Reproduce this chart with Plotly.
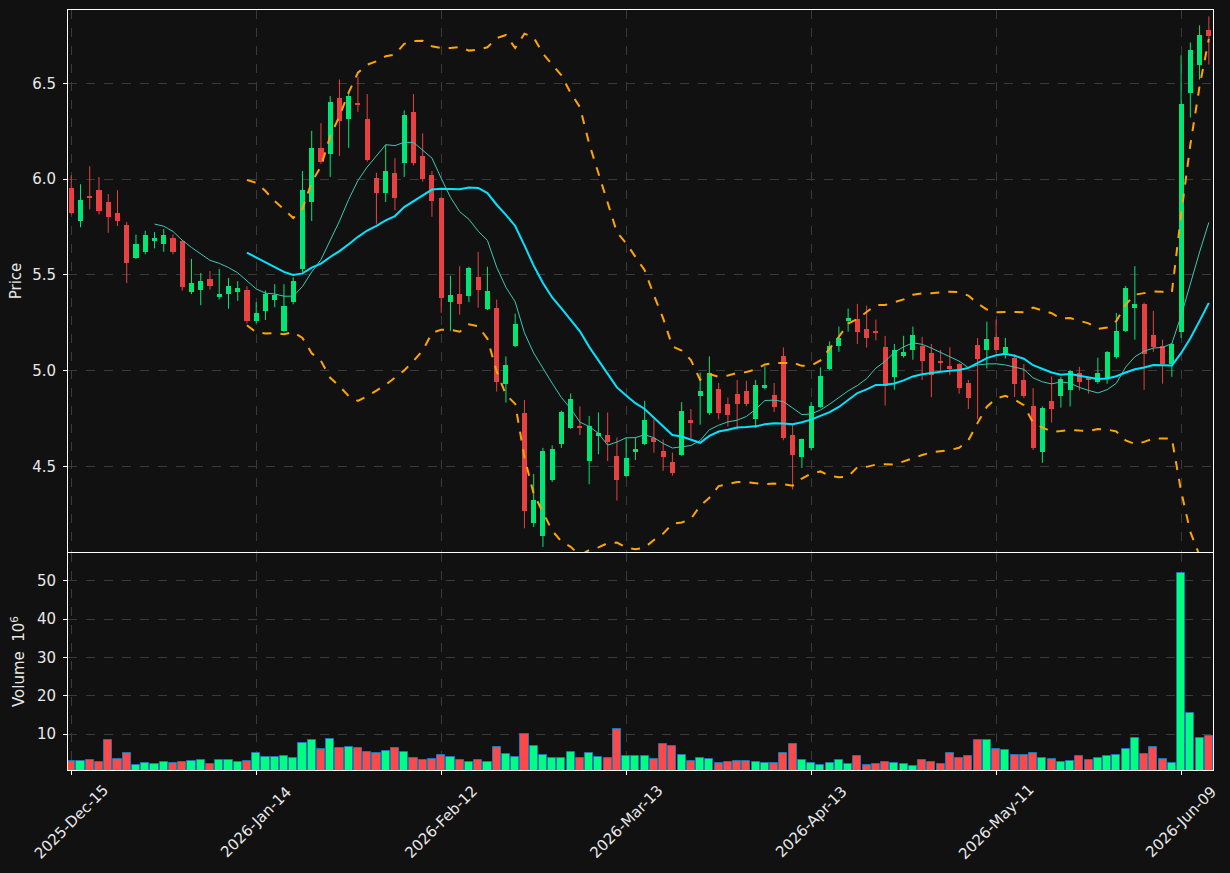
import numpy as np
import pandas as pd
import plotly.graph_objects as go

tick_pos = [0, 20, 40, 60, 80, 100, 120]
tick_labels = ["2025-Dec-15", "2026-Jan-14", "2026-Feb-12", "2026-Mar-13",
               "2026-Apr-13", "2026-May-11", "2026-Jun-09"]

opens = [5.955,5.779,5.913,5.944,5.882,5.824,5.761,5.587,5.618,5.679,
5.659,5.694,5.674,5.409,5.420,5.480,5.386,5.399,5.409,5.422,
5.257,5.312,5.368,5.207,5.357,5.529,5.879,6.163,6.129,6.424,
6.312,6.395,6.313,6.007,5.929,6.033,6.082,6.351,6.121,6.022,
5.902,5.357,5.402,5.388,5.491,5.321,5.324,4.929,5.127,4.777,
4.205,4.138,4.428,4.616,4.701,4.708,4.529,4.659,4.661,4.553,
4.449,4.574,4.616,4.650,4.578,4.522,4.560,4.741,4.868,4.777,
4.902,4.824,4.880,4.891,4.745,4.908,4.870,5.074,4.661,4.549,
4.596,4.808,5.007,5.127,5.257,5.268,5.219,5.203,5.121,4.966,
5.074,5.107,5.130,5.089,5.043,5.024,5.034,4.933,5.132,5.107,
5.174,5.089,5.065,4.953,4.813,4.574,4.839,4.868,4.899,4.989,
4.958,4.940,4.962,5.071,5.207,5.324,5.350,5.183,5.129,5.034,
5.201,6.451,6.598,6.781]

highs = [6.020,5.973,6.067,6.011,5.922,5.942,5.775,5.710,5.730,5.723,
5.739,5.710,5.680,5.583,5.509,5.520,5.531,5.484,5.467,5.440,
5.357,5.418,5.451,5.451,5.487,6.042,6.252,6.292,6.433,6.520,
6.451,6.534,6.444,6.033,6.179,6.109,6.359,6.444,6.239,6.042,
5.905,5.495,5.545,5.542,5.620,5.542,5.370,5.074,5.297,4.846,
4.460,4.596,4.609,4.790,4.880,4.813,4.763,4.781,4.781,4.650,
4.650,4.650,4.842,4.745,4.640,4.571,4.835,4.799,4.989,5.074,
4.935,4.859,4.951,4.947,4.951,5.022,4.935,5.121,4.716,4.645,
4.835,5.016,5.152,5.230,5.324,5.348,5.339,5.266,5.181,5.139,
5.181,5.230,5.176,5.139,5.107,5.121,5.038,4.951,5.170,5.255,
5.266,5.170,5.085,5.034,4.908,4.813,4.969,4.967,5.003,5.020,
4.962,5.067,5.102,5.301,5.442,5.545,5.355,5.312,5.161,5.143,
6.647,6.714,6.803,6.850]

lows = [5.815,5.748,5.842,5.815,5.719,5.755,5.457,5.582,5.607,5.638,
5.620,5.607,5.417,5.399,5.341,5.422,5.370,5.322,5.364,5.246,
5.246,5.264,5.330,5.200,5.346,5.514,5.781,6.080,6.011,6.120,
6.163,6.351,6.092,5.766,5.880,5.837,6.011,6.071,5.987,5.803,
5.301,5.207,5.292,5.357,5.328,5.316,4.890,4.832,5.122,4.176,
4.183,4.078,4.418,4.596,4.696,4.663,4.406,4.563,4.527,4.321,
4.442,4.533,4.610,4.571,4.476,4.451,4.555,4.645,4.717,4.768,
4.745,4.708,4.690,4.813,4.701,4.900,4.783,4.636,4.379,4.491,
4.585,4.803,5.002,5.098,5.203,5.139,5.120,5.158,4.817,4.900,
5.067,5.056,4.951,4.861,4.998,4.976,4.879,4.799,4.745,5.011,
5.092,5.063,4.862,4.857,4.585,4.518,4.728,4.806,4.812,4.895,
4.879,4.931,4.931,5.062,5.202,5.161,4.899,5.098,4.931,4.967,
5.170,6.321,6.520,6.598]

closes = [5.821,5.891,5.899,5.832,5.801,5.779,5.560,5.663,5.710,5.694,
5.710,5.618,5.438,5.455,5.469,5.440,5.402,5.444,5.433,5.257,
5.303,5.402,5.393,5.339,5.469,5.944,6.163,6.087,6.402,6.301,
6.435,6.391,6.098,5.929,6.043,5.899,6.335,6.082,5.998,5.888,
5.379,5.397,5.346,5.533,5.422,5.413,4.940,5.031,5.241,4.268,
4.322,4.578,4.589,4.783,4.850,4.703,4.710,4.674,4.627,4.429,
4.542,4.589,4.741,4.627,4.547,4.466,4.790,4.726,4.891,4.989,
4.777,4.766,4.826,4.824,4.922,4.922,4.810,4.649,4.560,4.640,
4.813,4.971,5.130,5.172,5.272,5.199,5.168,5.199,4.918,5.109,
5.098,5.183,5.049,4.976,5.040,5.009,4.909,4.857,5.058,5.165,
5.105,5.123,4.929,4.868,4.594,4.803,4.799,4.958,4.998,4.940,
4.951,4.989,5.098,5.205,5.433,5.350,5.085,5.125,5.034,5.139,
6.393,6.674,6.752,6.748]

volumes_m = [2.84,2.84,3.10,2.66,8.43,3.45,4.93,1.79,2.31,2.05,
2.58,2.31,2.58,2.84,3.10,2.05,3.10,3.10,2.58,2.84,
4.93,3.89,3.89,4.15,3.62,7.55,8.43,6.07,8.69,6.33,
6.51,6.33,5.28,4.93,5.46,6.33,5.20,3.71,3.10,3.36,
4.50,3.97,3.10,2.58,3.10,2.58,6.51,4.67,3.97,9.91,
6.77,4.41,3.62,3.62,5.20,3.62,4.93,3.97,3.62,11.22,
4.15,4.15,4.15,3.36,7.29,6.77,4.41,2.84,3.62,3.36,
2.31,2.58,2.84,2.84,2.58,2.31,2.31,4.93,7.29,3.10,
2.31,1.79,2.31,3.10,2.05,4.15,1.79,2.05,2.58,2.31,
2.05,1.53,3.10,2.58,2.05,4.93,3.62,4.15,8.34,8.34,
5.98,5.72,4.41,4.41,4.93,3.62,3.36,2.58,2.84,4.15,
3.10,3.62,4.15,4.41,5.98,8.86,4.67,6.51,3.36,2.31,
52.1,15.4,8.86,9.39]

UP_C = "#00e676"
DN_C = "#e84142"
VUP_C = "#00ff80"
VDN_C = "#ff4848"
BG = "#111111"
GRID = "#3a3a3a"
TXT = "#e8e8e8"
FS = 15

n = len(closes)
idx = np.arange(n)
o = np.array(opens); h = np.array(highs); l = np.array(lows); c = np.array(closes)
up = c >= o

cs = pd.Series(c)
ma10 = cs.rolling(10).mean()
ma20 = cs.rolling(20).mean()
sd20 = cs.rolling(20).std()
bb_up = ma20 + 2 * sd20
bb_lo = ma20 - 2 * sd20

fig = go.Figure()

# wicks
for mask, col in [(up, UP_C), (~up, DN_C)]:
    wx, wy = [], []
    for i in idx[mask]:
        wx += [i, i, None]
        wy += [l[i], h[i], None]
    fig.add_trace(go.Scatter(x=wx, y=wy, mode="lines", line=dict(color=col, width=1),
                             hoverinfo="skip", showlegend=False, xaxis="x", yaxis="y"))

# bodies
for mask, col in [(up, UP_C), (~up, DN_C)]:
    bx = idx[mask]
    base = np.minimum(o, c)[mask]
    hgt = np.maximum(np.abs(c - o)[mask], 0.006)
    fig.add_trace(go.Bar(x=bx, y=hgt, base=base, width=0.55, marker=dict(color=col, line=dict(width=0)),
                         showlegend=False, xaxis="x", yaxis="y"))

# indicators
fig.add_trace(go.Scatter(x=idx, y=ma10, mode="lines", line=dict(color="#3cc8b4", width=1),
                         showlegend=False, xaxis="x", yaxis="y"))
fig.add_trace(go.Scatter(x=idx, y=ma20, mode="lines", line=dict(color="#00e5ff", width=2),
                         showlegend=False, xaxis="x", yaxis="y"))
for band in (bb_up, bb_lo):
    fig.add_trace(go.Scatter(x=idx, y=band, mode="lines", line=dict(color="#ffa500", width=2, dash="dash"),
                             showlegend=False, xaxis="x", yaxis="y"))

# volume
vcol = [VUP_C if u else VDN_C for u in up]
fig.add_trace(go.Bar(x=idx, y=volumes_m, width=0.88,
                     marker=dict(color=vcol, line=dict(color="#1f77b4", width=1)),
                     showlegend=False, xaxis="x2", yaxis="y2"))

axis_common = dict(showline=True, linecolor="white", linewidth=1, mirror=True,
                   gridcolor=GRID, griddash="dash", gridwidth=1, zeroline=False, automargin=False,
                   tickfont=dict(color=TXT, size=FS), ticks="outside", tickcolor="white", ticklen=4,
                   ticklabelstandoff=4)

# rotated date labels centred under their ticks
annotations = [dict(x=p, y=0, xref="x2", yref="paper", text=t, textangle=-45,
                    showarrow=False, xanchor="center", yanchor="middle", yshift=-52,
                    font=dict(color=TXT, size=FS))
               for p, t in zip(tick_pos, tick_labels)]

fig.update_layout(
    width=1230, height=873,
    paper_bgcolor=BG, plot_bgcolor=BG,
    font=dict(family="DejaVu Sans", color=TXT, size=FS),
    margin=dict(l=68, r=17, t=10, b=103),
    bargap=0, barmode="overlay",
    annotations=annotations,
    xaxis=dict(domain=[0, 1], anchor="y", range=[-0.35, 123.45], tickvals=tick_pos,
               showticklabels=False, **axis_common),
    yaxis=dict(domain=[0.2868, 1], anchor="x", range=[4.052, 6.883],
               tickvals=[4.5, 5.0, 5.5, 6.0, 6.5], ticktext=["4.5", "5.0", "5.5", "6.0", "6.5"],
               title=dict(text="Price", font=dict(size=FS, color=TXT), standoff=6), **axis_common),
    xaxis2=dict(domain=[0, 1], anchor="y2", matches="x", range=[-0.35, 123.45], tickvals=tick_pos,
                showticklabels=False, **axis_common),
    yaxis2=dict(domain=[0, 0.2855], anchor="x2", range=[0.6, 57.3], tickvals=[10, 20, 30, 40, 50],
                title=dict(text="Volume  10<sup>6</sup>", font=dict(size=FS, color=TXT), standoff=8),
                **axis_common),
)

fig.write_html("out.html")
